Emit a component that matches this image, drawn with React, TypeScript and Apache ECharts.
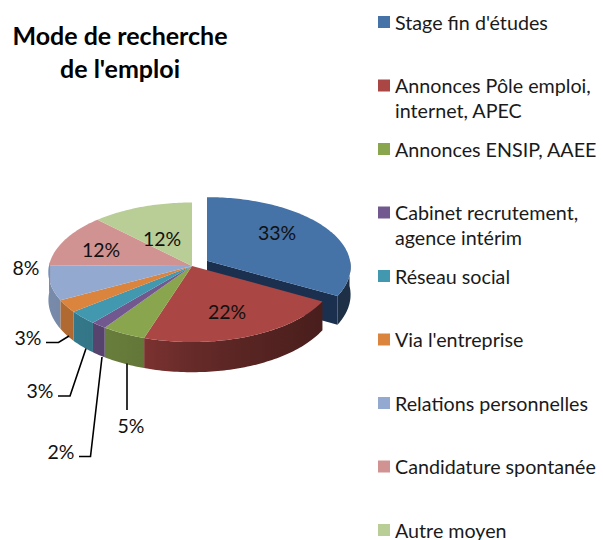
import React, { useEffect, useRef } from "react";
import * as echarts from "echarts";

const categories = [
  "Stage fin d'études",
  "Annonces Pôle emploi,\ninternet, APEC",
  "Annonces ENSIP, AAEE",
  "Cabinet recrutement,\nagence intérim",
  "Réseau social",
  "Via l'entreprise",
  "Relations personnelles",
  "Candidature spontanée",
  "Autre moyen",
];
// Labels show these rounded; the slice sizes read from the picture are not exact integers.
const values = [33.1, 21.8, 4.6, 1.6, 3.1, 2.9, 8, 12.4, 12.4];
const colors = ["#4572a7", "#aa4643", "#89a54e", "#71588f", "#4198af", "#db843d", "#93a9cf", "#d19392", "#b9cd96"];

const titleText = "Mode de recherche\nde l'emploi";
const FONT = "Lato, Carlito, 'Open Sans', sans-serif";

// Projection of the pie: a disc seen in perspective
const CX = 192, CY = 266, RX = 143, RY = 69.2, P = 0.0896, DEPTH = 27.5;
const EXPLODE = [[15, -5.3]];
const labelPositions = [
  [277, 232], [227, 311], [131, 425], [61, 451], [40, 390], [28, 337], [26, 267], [101, 249], [162, 238],
];
const leaders = [
  null, null,
  [[127, 363.5], [127, 410]],
  [[79, 456.5], [90.5, 456.5], [102, 357]],
  [[58, 396], [70, 396], [86, 348.5]],
  [[46, 342.5], [58.5, 342.5], [69, 336]],
  null, null, null,
];

const total = values.reduce((a, b) => a + b, 0);

function point(theta: number, ox: number, oy: number, drop: number) {
  const X = Math.sin(theta), Y = Math.cos(theta);
  const s = 1 / (1 + P * Y);
  return [CX + ox + RX * X * s, CY + oy - RY * Y * s + drop * s];
}
function apex(ox: number, oy: number, drop: number) {
  return [CX + ox, CY + oy + drop];
}
function shadeFactor(x: number) {
  const stops = [[49, 0.82], [145, 0.72], [200, 0.58], [340, 0.4]];
  if (x <= stops[0][0]) return stops[0][1];
  for (let i = 1; i < stops.length; i++) {
    if (x <= stops[i][0]) {
      const t = (x - stops[i - 1][0]) / (stops[i][0] - stops[i - 1][0]);
      return stops[i - 1][1] + t * (stops[i][1] - stops[i - 1][1]);
    }
  }
  return stops[stops.length - 1][1];
}
function shade(hex: string, f: number) {
  const n = parseInt(hex.slice(1), 16);
  const c = [(n >> 16) & 255, (n >> 8) & 255, n & 255].map((v) => Math.round(v * f));
  return `rgb(${c.join(",")})`;
}
function arcPoints(a0: number, a1: number, ox: number, oy: number, drop: number) {
  const n = Math.max(2, Math.ceil((a1 - a0) / 0.02));
  const pts: number[][] = [];
  for (let i = 0; i <= n; i++) pts.push(point(a0 + ((a1 - a0) * i) / n, ox, oy, drop));
  return pts;
}

function renderSlice(params: any, api: any) {
  const i = params.dataIndex;
  const before = values.slice(0, i).reduce((a, b) => a + b, 0);
  const a0 = (before / total) * Math.PI * 2;
  const a1 = ((before + api.value(0)) / total) * Math.PI * 2;
  const [ox, oy] = EXPLODE[i] || [0, 0];
  const children: any[] = [];
  const color = colors[i];

  // cut face of the exploded slice
  if (EXPLODE[i]) {
    const e0 = point(a1, ox, oy, 0), e1 = point(a1, ox, oy, DEPTH);
    children.push({
      type: "polygon",
      shape: { points: [apex(ox, oy, 0), e0, e1, apex(ox, oy, DEPTH)] },
      style: { fill: "#1b304f" },
      silent: true,
    });
  }
  // visible outer wall
  const s0 = Math.max(a0, Math.PI * 0.49), s1 = Math.min(a1, Math.PI * 1.52);
  if (s1 > s0) {
    const top = arcPoints(s0, s1, ox, oy, 0);
    const bottom = arcPoints(s0, s1, ox, oy, DEPTH).reverse();
    const xs = top.map((p) => p[0]);
    const xMin = Math.min(...xs), xMax = Math.max(...xs);
    const stops = [0, 0.25, 0.5, 0.75, 1].map((t) => ({
      offset: t,
      color: shade(color, EXPLODE[i] ? 0.42 : shadeFactor(xMin + (xMax - xMin) * t)),
    }));
    children.push({
      type: "polygon",
      shape: { points: [...top, ...bottom] },
      style: { fill: new echarts.graphic.LinearGradient(0, 0, 1, 0, stops) },
      silent: true,
    });
  }
  // top face
  children.push({
    type: "polygon",
    shape: { points: [apex(ox, oy, 0), ...arcPoints(a0, a1, ox, oy, 0)] },
    style: { fill: color },
    silent: true,
  });
  return { type: "group", children };
}

function renderAnnotations(params: any, api: any) {
  const i = params.dataIndex;
  const children: any[] = [];
  const leader = leaders[i];
  if (leader) {
    children.push({
      type: "polyline",
      shape: { points: leader },
      style: { stroke: "#000", lineWidth: 1.6, fill: "none" },
      silent: true,
    });
  }
  const [lx, ly] = labelPositions[i];
  children.push({
    type: "text",
    style: {
      x: lx, y: ly, text: `${Math.round(api.value(0))}%`, fill: "#111",
      fontFamily: FONT, fontSize: 19.5, align: "center", verticalAlign: "middle",
    },
    silent: true,
  });
  // legend entry
  const ly0 = 22 + 63.5 * i;
  children.push({
    type: "rect",
    shape: { x: 378, y: ly0 - 6, width: 12, height: 12 },
    style: { fill: colors[i] },
    silent: true,
  });
  categories[i].split("\n").forEach((line, k) => {
    children.push({
      type: "text",
      style: {
        x: 395, y: ly0 + k * 25, text: line, fill: "#1a1a1a",
        fontFamily: FONT, fontSize: 19.7, align: "left", verticalAlign: "middle",
      },
      silent: true,
    });
  });
  return { type: "group", children };
}

export default function App() {
  const ref = useRef<HTMLDivElement>(null);
  useEffect(() => {
    document.body.style.margin = "0";
    const chart = echarts.init(ref.current!, undefined, { renderer: "svg" });
    const data = categories.map((name, i) => ({ name, value: values[i] }));
    chart.setOption({
      animation: false,
      backgroundColor: "#fff",
      title: {
        text: titleText,
        left: 115,
        top: 13,
        textAlign: "center",
        textStyle: { fontFamily: FONT, fontWeight: "bold", fontSize: 25, lineHeight: 33, color: "#000" },
      },
      series: [
        { type: "custom", coordinateSystem: "none", renderItem: renderSlice, data, z: 1, silent: true },
        { type: "custom", coordinateSystem: "none", renderItem: renderAnnotations, data, z: 2, silent: true },
      ],
    });
    return () => chart.dispose();
  }, []);
  return <div ref={ref} style={{ width: 603, height: 540 }} />;
}
